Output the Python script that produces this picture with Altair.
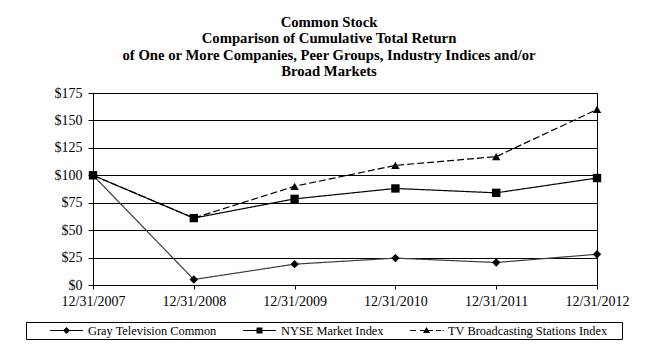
import altair as alt
import pandas as pd

dates = ["12/31/2007", "12/31/2008", "12/31/2009", "12/31/2010", "12/31/2011", "12/31/2012"]
gray = [100, 5, 19, 24.5, 20.5, 28]
nyse = [100, 61, 78.5, 88, 84, 97.5]
tv = [100, 61, 90, 109, 117, 160]
series = ["Gray Television Common", "NYSE Market Index", "TV Broadcasting Stations Index"]
y_ticks = [0, 25, 50, 75, 100, 125, 150, 175]
title_lines = [
    "Common Stock",
    "Comparison of Cumulative Total Return",
    "of One or More Companies, Peer Groups, Industry Indices and/or",
    "Broad Markets",
]

rows = []
for name, vals in zip(series, [gray, nyse, tv]):
    for d, v in zip(dates, vals):
        rows.append({"date": d, "value": v, "series": name})
df = pd.DataFrame(rows)

FONT = "Liberation Serif"


def seg(a, b, h=0.019):
    return f"M{a},{-h}L{b},{-h}L{b},{h}L{a},{h}Z"


# legend symbols: invisible anchor point, line segment(s), marker
lead = "M-1,0Z"
sym_gray = lead + seg(-0.214, 0.964) + "M0.375,-0.125L0.5,0L0.375,0.125L0.25,0Z"
sym_nyse = lead + seg(-0.214, 0.964) + "M0.268,-0.107L0.482,-0.107L0.482,0.107L0.268,0.107Z"
sym_tv = (lead + seg(-0.214, 0) + seg(0.143, 0.607) + seg(0.714, 0.893) + seg(0.946, 0.982)
          + "M0.375,-0.125L0.5,0.09L0.25,0.09Z")

x_enc = alt.X(
    "date:O",
    sort=dates,
    scale=alt.Scale(type="point", padding=0),
    axis=alt.Axis(
        title=None, labelAngle=0, labelFont=FONT, labelFontSize=14, labelColor="black",
        tickSize=4, tickColor="black", domainColor="black", labelPadding=5, grid=False,
    ),
)
y_enc = alt.Y(
    "value:Q",
    scale=alt.Scale(domain=[0, 175], nice=False),
    axis=alt.Axis(
        title=None, values=y_ticks, format="$.0f", labelFont=FONT, labelFontSize=14,
        labelColor="black", tickSize=5, tickColor="black", domainColor="black",
        labelPadding=6, grid=True, gridColor="black", gridWidth=1,
    ),
)

base = alt.Chart(df).encode(x=x_enc, y=y_enc)

lines = base.mark_line(strokeWidth=1.2).encode(
    color=alt.Color("series:N", scale=alt.Scale(domain=series, range=["#3c3c3c", "black", "black"]), legend=None),
    strokeDash=alt.StrokeDash("series:N", scale=alt.Scale(domain=series, range=[[1, 0], [1, 0], [7, 3]]), legend=None),
)

points = base.mark_point(filled=True, opacity=1, color="black", size=70).encode(
    shape=alt.Shape("series:N", scale=alt.Scale(domain=series, range=["diamond", "square", "triangle-up"]), legend=None),
)

pad_label = "TV Broadcasting Stations Index"
nb = "\u00a0" * 4 + "\u200b"
legend_layer = base.mark_point(
    filled=True, fill="black", stroke="black", strokeWidth=1, opacity=0
).encode(
    shape=alt.Shape(
        "series:N",
        scale=alt.Scale(domain=series, range=[sym_gray, sym_nyse, sym_tv]),
        legend=alt.Legend(
            title=None, orient="none", legendX=-67, legendY=229, direction="horizontal",
            symbolSize=3136, symbolStrokeWidth=1, symbolFillColor="black", symbolStrokeColor="black",
            symbolOpacity=1, labelFont=FONT, labelFontSize=12.4, labelColor="black", labelOffset=3.5,
            columnPadding=3, padding=1.5, clipHeight=14, strokeColor="black", fillColor="white",
            labelLimit=0,
            labelExpr="datum.label == '" + pad_label + "' ? datum.label + '" + nb + "' : datum.label",
        ),
    ),
)

chart = (
    alt.layer(lines, points, legend_layer)
    .resolve_scale(shape="independent")
    .resolve_legend(shape="independent")
    .properties(
        width=504,
        height=192,
        padding={"left": 93, "top": 93, "right": 58, "bottom": 67},
        autosize=alt.AutoSizeParams(type="none"),
        title=alt.TitleParams(
            text=title_lines, font=FONT, fontSize=14.7, fontWeight="bold", color="black",
            lineHeight=16.4, anchor="middle", frame="group", dx=-16, offset=7,
        ),
        background="white",
    )
    .configure_view(stroke="black", strokeWidth=1)
    .configure_legend(labelFont=FONT, labelFontSize=12.4, labelColor="black")
)

chart.save("out.html", embed_options={"renderer": "svg", "actions": False})
